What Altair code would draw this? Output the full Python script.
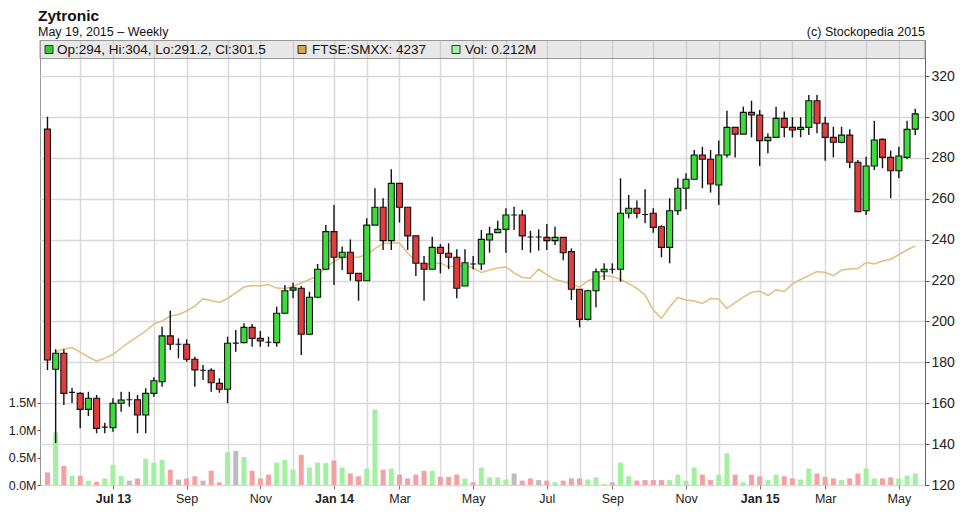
import altair as alt
import numpy as np
import pandas as pd

FONT = "Liberation Sans"

# ---------------- data ----------------
week_start = "2013-05-06"          # first weekly candle (Monday)
n_weeks = 107

# first weekly candle of each month (x grid / tick positions)
month_starts = [
    "2013-06-03", "2013-07-01", "2013-08-05", "2013-09-02", "2013-10-07", "2013-11-04", "2013-12-02",
    "2014-01-06", "2014-02-03", "2014-03-03", "2014-04-07", "2014-05-05", "2014-06-02", "2014-07-07",
    "2014-08-04", "2014-09-01", "2014-10-06", "2014-11-03", "2014-12-01",
    "2015-01-05", "2015-02-02", "2015-03-02", "2015-04-06", "2015-05-04",
]

opens = [
    294.0, 176.6, 184.4, 165.3, 164.8, 157.0, 162.4, 148.3, 148.0, 160.0,
    161.7, 161.7, 154.2, 164.8, 170.5, 192.9, 188.8, 188.8, 181.5, 176.1,
    176.1, 169.7, 166.8, 189.4, 189.6, 197.1, 191.7, 189.8, 189.6, 204.0,
    215.3, 216.2, 193.7, 211.8, 225.5, 243.9, 231.4, 233.8, 223.5, 219.9,
    247.1, 255.8, 239.5, 267.5, 255.8, 241.8, 228.4, 225.5, 236.2, 233.3,
    231.4, 217.3, 228.1, 228.1, 239.8, 243.4, 245.0, 252.0, 252.0, 241.3,
    241.3, 241.1, 239.5, 241.1, 234.1, 215.7, 201.0, 215.0, 224.3, 225.5,
    225.5, 252.9, 255.3, 252.3, 252.9, 246.3, 236.2, 254.1, 265.1, 269.5,
    281.4, 279.3, 266.7, 281.4, 294.9, 291.6, 302.2, 300.9, 288.4, 290.0,
    299.3, 294.9, 293.9, 294.9, 307.9, 296.9, 290.0, 287.6, 291.1, 277.8,
    254.1, 276.0, 289.0, 280.2, 273.7, 280.2, 294.0,
]
highs = [
    300.1, 186.4, 186.4, 167.4, 165.3, 165.6, 164.0, 150.5, 162.4, 165.6,
    165.6, 164.0, 167.3, 172.7, 197.4, 205.2, 191.7, 191.2, 182.7, 178.7,
    177.1, 172.2, 192.5, 195.8, 199.1, 198.7, 195.3, 192.5, 207.2, 217.8,
    218.9, 217.3, 214.5, 228.1, 247.1, 256.9, 236.6, 240.1, 223.5, 250.4,
    265.1, 260.2, 274.4, 267.5, 255.8, 241.8, 232.0, 241.4, 237.8, 238.2,
    235.3, 235.3, 232.0, 244.7, 246.3, 249.2, 255.3, 256.1, 254.5, 244.3,
    245.0, 247.6, 246.3, 241.1, 235.7, 215.7, 215.5, 225.9, 228.4, 228.4,
    270.0, 261.8, 259.1, 264.6, 255.3, 247.1, 260.2, 270.0, 272.4, 283.8,
    285.4, 283.8, 288.4, 303.0, 294.9, 305.0, 307.9, 303.4, 292.0, 305.0,
    302.6, 299.8, 299.8, 310.7, 310.7, 300.1, 295.2, 295.2, 293.9, 278.9,
    280.5, 298.1, 289.5, 283.5, 285.4, 298.1, 304.0,
]
lows = [
    176.2, 140.5, 159.1, 160.1, 147.7, 153.7, 145.3, 145.3, 146.1, 155.8,
    158.3, 145.3, 145.3, 163.2, 168.1, 186.0, 182.0, 180.3, 168.1, 171.3,
    165.6, 165.1, 160.0, 185.2, 189.3, 187.6, 187.6, 187.6, 187.6, 203.6,
    211.3, 183.6, 193.4, 211.3, 225.1, 217.8, 225.1, 219.9, 210.1, 219.9,
    247.1, 234.9, 234.9, 248.3, 234.9, 222.2, 210.1, 225.5, 223.5, 225.5,
    211.3, 217.3, 225.5, 225.1, 233.6, 243.4, 233.6, 244.7, 234.9, 233.6,
    234.6, 234.9, 237.4, 229.9, 210.5, 197.1, 200.5, 206.9, 220.2, 223.5,
    219.4, 250.4, 250.4, 248.0, 243.4, 231.4, 228.4, 252.0, 254.8, 269.5,
    265.1, 263.0, 256.9, 280.2, 280.2, 291.6, 290.0, 276.0, 282.2, 290.0,
    290.0, 290.0, 290.0, 291.1, 292.0, 278.6, 280.2, 287.1, 274.9, 253.7,
    252.0, 274.0, 274.9, 260.2, 270.0, 279.3, 291.2,
]
closes = [
    181.1, 184.4, 164.8, 165.3, 157.0, 162.4, 147.7, 148.3, 160.0, 161.6,
    161.7, 154.2, 164.8, 171.0, 192.9, 188.8, 188.8, 181.5, 176.3, 176.1,
    170.0, 166.8, 189.3, 189.4, 197.1, 191.7, 190.4, 189.8, 204.0, 215.0,
    216.4, 193.7, 211.8, 225.5, 243.9, 231.4, 233.8, 223.5, 219.9, 247.1,
    255.8, 239.5, 267.5, 255.8, 241.8, 228.4, 225.5, 236.2, 233.3, 231.4,
    216.2, 228.7, 228.1, 240.1, 242.7, 245.0, 252.0, 252.0, 241.8, 241.3,
    241.3, 239.5, 241.1, 233.6, 215.7, 201.0, 215.0, 224.3, 225.5, 225.5,
    252.9, 255.3, 252.9, 252.3, 246.0, 236.2, 254.1, 265.1, 269.5, 281.4,
    279.3, 267.2, 281.4, 294.9, 291.6, 302.2, 300.9, 288.4, 290.0, 299.3,
    294.9, 293.6, 294.9, 307.9, 296.9, 290.0, 287.6, 291.1, 277.8, 253.7,
    276.0, 288.7, 280.2, 273.7, 280.9, 293.9, 301.5,
]
volumes_m = [
    0.23, 0.96, 0.35, 0.17, 0.17, 0.08, 0.06, 0.12, 0.37, 0.17,
    0.08, 0.12, 0.48, 0.41, 0.46, 0.28, 0.10, 0.12, 0.16, 0.08,
    0.26, 0.05, 0.60, 0.62, 0.51, 0.26, 0.12, 0.19, 0.41, 0.46,
    0.28, 0.55, 0.32, 0.41, 0.40, 0.45, 0.32, 0.21, 0.16, 0.30,
    1.38, 0.28, 0.30, 0.19, 0.12, 0.19, 0.26, 0.26, 0.15, 0.15,
    0.19, 0.12, 0.05, 0.32, 0.14, 0.14, 0.10, 0.21, 0.08, 0.12,
    0.09, 0.08, 0.05, 0.08, 0.12, 0.12, 0.10, 0.14, 0.02, 0.05,
    0.41, 0.16, 0.08, 0.09, 0.09, 0.09, 0.09, 0.19, 0.08, 0.32,
    0.19, 0.09, 0.19, 0.58, 0.19, 0.05, 0.19, 0.16, 0.09, 0.19,
    0.16, 0.12, 0.10, 0.30, 0.21, 0.15, 0.12, 0.09, 0.12, 0.21,
    0.30, 0.12, 0.12, 0.14, 0.12, 0.17, 0.212,
]
# FTSE SmallCap (rebased onto the price scale)
ftse_rebased = [
    None, 185.2, 186.5, 187.2, 185.0, 182.6, 180.6, 181.9, 183.8, 187.0,
    189.9, 192.6, 195.3, 198.7, 200.2, 202.6, 203.4, 205.1, 207.5, 211.0,
    210.2, 209.3, 211.2, 213.9, 216.8, 217.6, 217.3, 218.0, 216.3, 216.1,
    217.1, 218.8, 220.5, 222.2, 226.2, 229.3, 231.2, 231.5, 231.4, 232.7,
    235.6, 238.1, 238.3, 238.3, 233.4, 229.5, 227.6, 228.3, 228.6, 226.6,
    227.1, 227.3, 226.1, 223.9, 225.1, 226.1, 226.6, 223.7, 221.5, 221.2,
    225.6, 222.7, 220.5, 219.5, 218.3, 216.8, 219.8, 221.2, 222.4, 222.0,
    220.5, 218.5, 216.1, 212.9, 205.6, 201.5, 207.0, 211.7, 210.5, 210.0,
    208.8, 211.2, 211.0, 206.3, 209.2, 211.9, 214.1, 214.9, 212.7, 215.4,
    214.6, 218.3, 220.5, 222.4, 224.4, 223.9, 222.4, 225.1, 225.6, 225.9,
    228.8, 228.1, 229.5, 230.4, 232.7, 234.9, 236.9,
]
ftse_last = 4237

price_ticks = [120, 140, 160, 180, 200, 220, 240, 260, 280, 300, 320]
volume_ticks = [0.0, 0.5, 1.0, 1.5]

# ---------------- table ----------------
dates = pd.date_range(week_start, periods=n_weeks, freq="7D")
df = pd.DataFrame({
    "date": dates.strftime("%Y-%m-%d"),
    "open": opens, "high": highs, "low": lows, "close": closes,
    "volume": volumes_m, "ftse": ftse_rebased,
})
df["body"] = np.where(df["close"] > df["open"], "up",
                      np.where(df["close"] < df["open"], "down", "flat"))
prev_close = df["close"].shift(1).fillna(df["open"])
chg = df["close"] - prev_close
df["vdir"] = np.where(chg > 0.25, "up", np.where(chg < -0.25, "down", "flat"))

last = df.iloc[-1]
legend_price = f"Op:{last['open']:g}, Hi:{last['high']:g}, Lo:{last['low']:g}, Cl:{last['close']:g}"
legend_ftse = f"FTSE:SMXX: {ftse_last}"
legend_vol = f"Vol: {last['volume']:.3f}M"

# ---------------- layout ----------------
PAD_L, PAD_T, PAD_R, PAD_B = 32, 32, 32, 24
W, H = 885, 445
DAY = 86400000
px_day = 8.28 / 7.0


def ms(s):
    return int(pd.Timestamp(s, tz="UTC").value // 10**6)


x_lo = ms(week_start) - 2.5 / px_day * DAY
x_hi = x_lo + W / px_day * DAY

GRID = "#d9d9d9"
is_year = "(utcmonth(datum.value) == 0 || (utcyear(datum.value) == 2013 && utcmonth(datum.value) == 6))"
x_axis = alt.Axis(
    values=[ms(m) for m in month_starts],
    labelExpr=("utcmonth(datum.value) % 2 == 0 ? (" + is_year +
               " ? utcFormat(datum.value, '%b %y') : utcFormat(datum.value, '%b')) : ''"),
    labelFontWeight={"condition": {"test": is_year, "value": "bold"}, "value": "normal"},
    tickColor={"condition": {"test": "utcmonth(datum.value) % 2 == 0", "value": "#777"},
               "value": "transparent"},
    tickSize=4, labelPadding=3, grid=True, gridColor=GRID, gridWidth=1.5,
    domain=False, labelFontSize=12.5, labelColor="#222", labelFont=FONT,
    labelOverlap=False, labelFlush=False, title=None,
)
X = alt.X("date:T", scale=alt.Scale(type="utc", domain=[x_lo, x_hi]), axis=x_axis, title=None)

price_scale = alt.Scale(domain=[120, 120 + H / 2.045], nice=False, zero=False)
price_axis = alt.Axis(
    orient="right", values=price_ticks, grid=True, gridColor=GRID, gridWidth=1.5,
    tickSize=4, tickColor="#555", labelPadding=2, domain=True, domainColor="#666",
    labelFontSize=14, labelColor="#222", labelFont=FONT, title=None,
)
vol_scale = alt.Scale(domain=[0, H / 54.7], nice=False, zero=True)
vol_axis = alt.Axis(
    orient="left", values=volume_ticks, labelExpr="format(datum.value, '.1f') + 'M'",
    grid=False, tickSize=3, tickColor="#555", labelPadding=1, domain=False,
    labelFontSize=12.5, labelColor="#222", labelFont=FONT, title=None,
)

base = alt.Chart(df)

volume = base.mark_bar(size=5).encode(
    x=X,
    y=alt.Y("volume:Q", scale=vol_scale, axis=vol_axis, title=None),
    color=alt.Color("vdir:N", scale=alt.Scale(domain=["up", "down", "flat"],
                                               range=["#a3f0a3", "#f3a1a1", "#bdbdbd"]), legend=None),
)

ftse_line = base.mark_line(color="#e0bf80", strokeWidth=1.5).encode(
    x=X, y=alt.Y("ftse:Q", scale=price_scale, axis=price_axis, title=None),
)
wicks = base.mark_rule(color="#111", strokeWidth=1.4).encode(
    x=X, y=alt.Y("low:Q", scale=price_scale, axis=price_axis, title=None), y2="high:Q",
)
bodies = base.mark_bar(size=6, stroke="#111", strokeWidth=1.1).encode(
    x=X, y=alt.Y("open:Q", scale=price_scale, axis=price_axis, title=None), y2="close:Q",
    color=alt.Color("body:N", scale=alt.Scale(domain=["up", "down", "flat"],
                                               range=["#3ddc3d", "#e23c3c", "#111111"]), legend=None),
)
price = alt.layer(ftse_line, wicks, bodies)


def one(text):
    return alt.Chart(pd.DataFrame({"t": [text]}))


legend_bar = one("").mark_rect(fill="#b8b8b8", fillOpacity=0.32, stroke="#999", strokeWidth=1).encode(
    x=alt.value(0), x2=alt.value(W), y=alt.value(0.5), y2=alt.value(18.5))


def swatch(xpos, colour):
    return one("").mark_rect(fill=colour, stroke="#333", strokeWidth=1).encode(
        x=alt.value(xpos), x2=alt.value(xpos + 8), y=alt.value(5.5), y2=alt.value(13.5))


def label(text, xpos, ypos, size, weight="normal", align="left", baseline="middle"):
    return one(text).mark_text(align=align, baseline=baseline, font=FONT, fontSize=size,
                               fontWeight=weight, color="#111").encode(
        x=alt.value(xpos), y=alt.value(ypos), text="t:N")


deco = [
    legend_bar,
    swatch(5, "#33cc33"), label(legend_price, 17, 9.8, 13.5),
    swatch(258, "#d6a64a"), label(legend_ftse, 272, 9.8, 13.5),
    swatch(412, "#a8f2a8"), label(legend_vol, 425, 9.8, 13.5),
    label("Zytronic", -2, -19.5, 15.5, weight="bold", baseline="alphabetic"),
    label("May 19, 2015 \u2013 Weekly", -2, -4.5, 12.5, baseline="alphabetic"),
    label("(c) Stockopedia 2015", W, -4.5, 12.5, align="right", baseline="alphabetic"),
]

chart = alt.layer(volume, price, *deco).resolve_scale(
    y="independent", color="independent"
).properties(
    width=W, height=H, autosize="none",
    padding={"left": PAD_L, "top": PAD_T, "right": PAD_R, "bottom": PAD_B},
    background="white",
).configure_view(stroke="#999", strokeWidth=1)

chart.save("out.html", embed_options={"renderer": "svg", "actions": False})
